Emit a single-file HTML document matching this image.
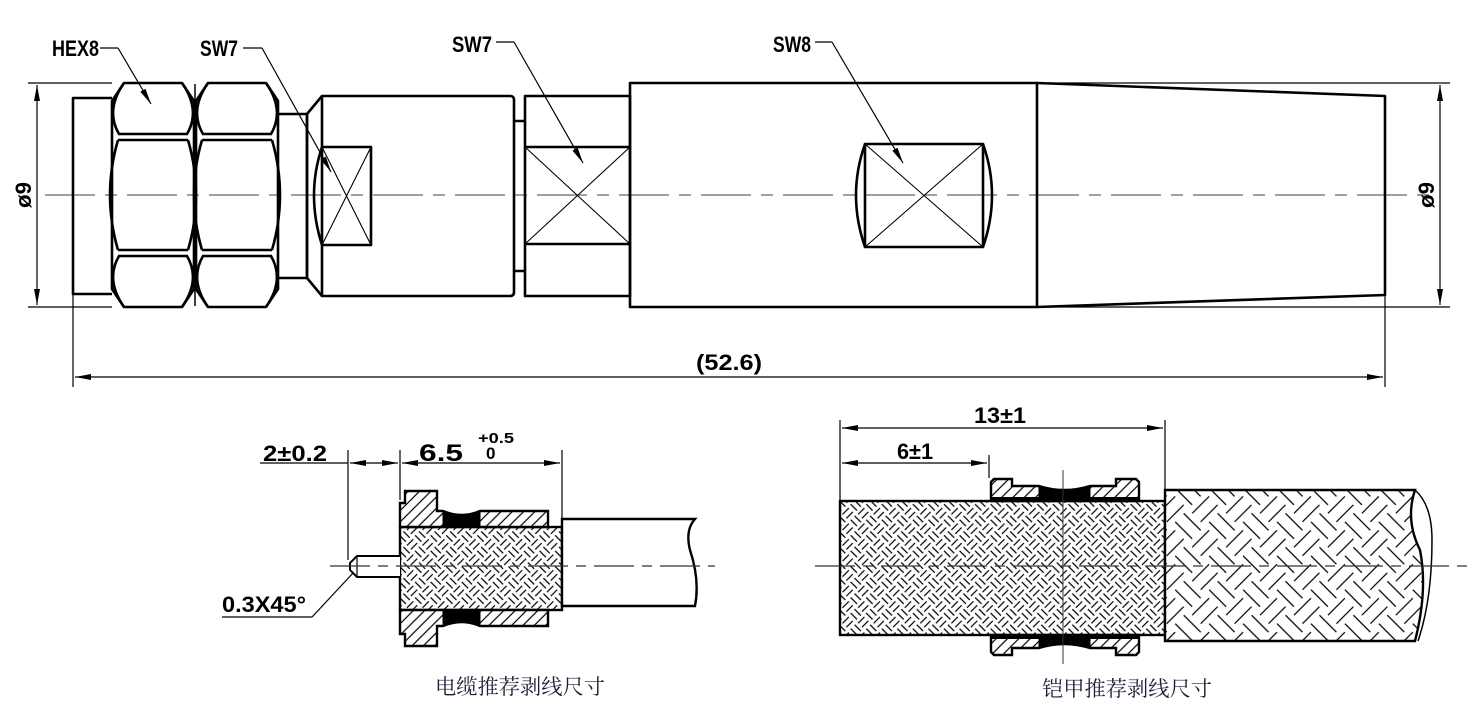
<!DOCTYPE html>
<html><head><meta charset="utf-8"><style>
html,body{margin:0;padding:0;background:#fff}
svg{display:block}
.t{font-family:"Liberation Sans",sans-serif;font-size:22px;font-weight:bold;fill:#000}
.c{font-family:"Liberation Serif","Noto Serif CJK SC","Noto Sans CJK SC",serif;font-size:21px;fill:#1a1f33}
</style></head><body>
<svg width="1477" height="719" viewBox="0 0 1477 719" xmlns="http://www.w3.org/2000/svg">
<defs>
<marker id="a" viewBox="0 0 16 6" refX="16" refY="3" markerWidth="16" markerHeight="6" orient="auto-start-reverse" markerUnits="userSpaceOnUse"><path d="M0,0 L16,3 L0,6 z" fill="#000"/></marker>
<pattern id="fw" width="22" height="22" patternUnits="userSpaceOnUse" patternTransform="rotate(45)">
<rect width="22" height="22" fill="#fff"/>
<g stroke="#000" stroke-width="1.2">
<path d="M1,2.5H10M1,8H10M12,13.5H21M12,19H21"/>
<path d="M13.5,1V10M19,1V10M2.5,12V21M8,12V21"/>
</g></pattern>
<pattern id="cw" width="48" height="48" patternUnits="userSpaceOnUse" patternTransform="rotate(45)">
<rect width="48" height="48" fill="#fff"/>
<g stroke="#000" stroke-width="1.2">
<path d="M0,6H24M0,18H24M24,30H48M24,42H48"/>
<path d="M30,0V24M42,0V24M6,24V48M18,24V48"/>
</g></pattern>
<pattern id="hh" width="8" height="8" patternUnits="userSpaceOnUse" patternTransform="rotate(45)">
<rect width="8" height="8" fill="#fff"/><path d="M4,0V8" stroke="#000" stroke-width="1.2"/></pattern>
</defs>

<g fill="none" stroke="#000">
<g stroke-width="1.2">
<path d="M28,83H112M28,307H112M1037,83H1450M1037,307H1450"/>
<path d="M73,294V387M1385,296V387"/>
</g>
<line x1="37" y1="85" x2="37" y2="305" stroke-width="1.2" marker-start="url(#a)" marker-end="url(#a)"/>
<line x1="1440" y1="85" x2="1440" y2="305" stroke-width="1.2" marker-start="url(#a)" marker-end="url(#a)"/>
<line x1="75" y1="377" x2="1383" y2="377" stroke-width="1.2" marker-start="url(#a)" marker-end="url(#a)"/>
<line x1="45" y1="195" x2="1430" y2="195" stroke="#666" stroke-width="1.2" stroke-dasharray="50,10,12,10"/>

<g stroke-width="2.6" stroke-linejoin="round">
<path d="M112,98H73V294H112"/>
<path d="M124,83H182L194,101V289L182,307H124L112,289V101Z"/>
<path d="M208,83H266L278,101V289L266,307H208L196,289V101Z"/>
<path d="M119,134Q105,110 124,83M187,134Q201,110 182,83M119,256Q105,280 124,307M187,256Q201,280 182,307"/>
<path d="M203,134Q189,110 208,83M271,134Q285,110 266,83M203,256Q189,280 208,307M271,256Q285,280 266,307"/>
<path d="M118,134H188M118,140H188M118,250H188M118,256H188M202,134H272M202,140H272M202,250H272M202,256H272"/>
<path d="M118,140Q102,195 118,250M188,140Q204,195 188,250M202,140Q186,195 202,250M272,140Q288,195 272,250"/>
<path d="M195,84V306" stroke-width="1.5"/>
<path d="M278,114H307V278H278"/>
<path d="M307,114L322,96M307,278L322,296M307,114V278"/>
<path d="M322,96H510Q514,96 514,100V292Q514,296 510,296H322Z"/>
<path d="M322,147H371V245H322"/>
<path d="M322,147Q306,195 322,245"/>
<path d="M514,121H525M514,271H525"/>
<path d="M525,96H630V296H525Z"/>
<path d="M525,147H630M525,244H630"/>
<path d="M630,83H1037V307H630Z"/>
<path d="M1037,83L1385,96V295L1037,307"/>
<path d="M865,144H983V247H865Z"/>
<path d="M865,144Q847,195 865,247M983,144Q1001,195 983,247"/>
</g>
<g stroke-width="1.1">
<path d="M322,147L371,245M371,147L322,245"/>
<path d="M525,147L630,244M630,147L525,244"/>
<path d="M865,144L983,247M983,144L865,247"/>
</g>
<g stroke-width="1.2">
<path d="M100,48H118"/><line x1="118" y1="48" x2="151" y2="104" marker-end="url(#a)"/>
<path d="M243,48H262"/><line x1="262" y1="48" x2="331" y2="172" marker-end="url(#a)"/>
<path d="M496,42H514"/><line x1="514" y1="42" x2="583" y2="163" marker-end="url(#a)"/>
<path d="M815,42H832"/><line x1="832" y1="42" x2="903" y2="163" marker-end="url(#a)"/>
</g>
</g>
<text class="t" x="52" y="56" textLength="47" lengthAdjust="spacingAndGlyphs">HEX8</text>
<text class="t" x="200" y="56" textLength="38" lengthAdjust="spacingAndGlyphs">SW7</text>
<text class="t" x="452" y="52" textLength="40" lengthAdjust="spacingAndGlyphs">SW7</text>
<text class="t" x="773" y="52" textLength="38" lengthAdjust="spacingAndGlyphs">SW8</text>
<text class="t" x="696" y="370" textLength="66" lengthAdjust="spacingAndGlyphs">(52.6)</text>
<text class="t" transform="translate(31,195) rotate(-90)" text-anchor="middle" textLength="26" lengthAdjust="spacingAndGlyphs">ø9</text>
<text class="t" transform="translate(1434,195) rotate(-90)" text-anchor="middle" textLength="26" lengthAdjust="spacingAndGlyphs">ø9</text>

<!-- bottom left -->
<g fill="none" stroke="#000">
<g stroke-width="1.2">
<path d="M348,450V560M400,450V500M562,450V519"/>
<path d="M260,463H348"/>
<line x1="350" y1="463" x2="398" y2="463" marker-start="url(#a)" marker-end="url(#a)"/>
<line x1="402" y1="463" x2="560" y2="463" marker-start="url(#a)" marker-end="url(#a)"/>
<path d="M222,617H312L354,572"/>
</g>
<rect x="400" y="527" width="162" height="83" fill="url(#fw)" stroke-width="2.4"/>
<path d="M400,527V503H405V491H437V511H443Q462,519 480,511H548V527Z" fill="url(#hh)" stroke-width="2.4"/>
<path d="M443,511Q462,519 480,511V527H443Z" fill="#000"/>
<path d="M400,610V634H405V646H437V626H443Q462,618 480,626H548V610Z" fill="url(#hh)" stroke-width="2.4"/>
<path d="M443,626Q462,618 480,626V610H443Z" fill="#000"/>
<path d="M400,556H357L350,563V570L357,577H400" fill="#fff" stroke-width="2"/>
<path d="M357,556V577" stroke-width="1.2"/>
<path d="M562,519H695Q685,530 690,550Q700,580 695,606H562Z" fill="#fff" stroke-width="2.4"/>
<line x1="330" y1="566" x2="715" y2="566" stroke="#333" stroke-width="1.2" stroke-dasharray="40,8,10,8"/>
</g>
<text class="t" x="263" y="461" textLength="64" lengthAdjust="spacingAndGlyphs">2±0.2</text>
<text class="t" x="419" y="461" style="font-size:24px" textLength="44" lengthAdjust="spacingAndGlyphs">6.5</text>
<text class="t" x="478" y="443" style="font-size:15px" textLength="36" lengthAdjust="spacingAndGlyphs">+0.5</text>
<text class="t" x="486" y="459" style="font-size:17px">0</text>
<text class="t" x="222" y="612" textLength="84" lengthAdjust="spacingAndGlyphs">0.3X45°</text>

<!-- bottom right -->
<g fill="none" stroke="#000">
<g stroke-width="1.2">
<path d="M840,420V500M989,455V478M1165,420V490"/>
<line x1="842" y1="428" x2="1163" y2="428" marker-start="url(#a)" marker-end="url(#a)"/>
<line x1="842" y1="463" x2="987" y2="463" marker-start="url(#a)" marker-end="url(#a)"/>
</g>
<rect x="840" y="501" width="325" height="134" fill="url(#fw)" stroke-width="2.4"/>
<path d="M1165,490H1415Q1405,520 1420,550Q1428,590 1415,641H1165Z" fill="url(#cw)" stroke-width="2.4"/>
<path d="M1415,490Q1432,505 1432,540Q1432,600 1418,641" stroke-width="1.5"/>
<!-- top sleeve -->
<path d="M991,501V482L994,479H1012V486H1039Q1064,494 1090,486H1116V479H1136L1139,482V501Z" fill="url(#hh)" stroke-width="2.4"/>
<path d="M1039,486Q1064,494 1090,486V501H1039Z" fill="#000"/>
<path d="M991,499H1139" stroke-width="4"/>
<!-- bottom sleeve -->
<path d="M991,635V652L994,655H1012V648H1039Q1064,640 1090,648H1116V655H1136L1139,652V635Z" fill="url(#hh)" stroke-width="2.4"/>
<path d="M1039,648Q1064,640 1090,648V635H1039Z" fill="#000"/>
<path d="M991,637H1139" stroke-width="4"/>
<line x1="815" y1="566" x2="1475" y2="566" stroke="#333" stroke-width="1.2" stroke-dasharray="40,8,10,8"/>
<line x1="1063" y1="470" x2="1063" y2="664" stroke="#333" stroke-width="1"/>
</g>
<text class="t" x="974" y="423" textLength="52" lengthAdjust="spacingAndGlyphs">13±1</text>
<text class="t" x="897" y="459" textLength="36" lengthAdjust="spacingAndGlyphs">6±1</text>

<text class="c" x="435" y="694" textLength="170" lengthAdjust="spacingAndGlyphs">电缆推荐剥线尺寸</text>
<text class="c" x="1042" y="696" textLength="170" lengthAdjust="spacingAndGlyphs">铠甲推荐剥线尺寸</text>
</svg>
</body></html>
